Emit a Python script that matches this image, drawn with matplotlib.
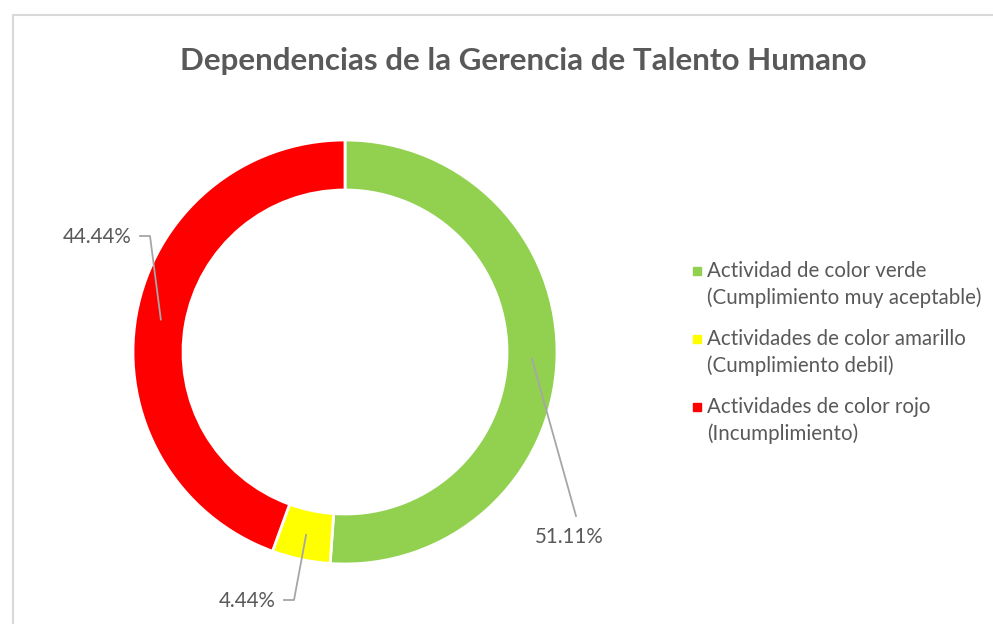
import numpy as np
import matplotlib.pyplot as plt

# Data
categories = [
    "Actividad de color verde\n(Cumplimiento muy aceptable)",
    "Actividades de color amarillo\n(Cumplimiento debil)",
    "Actividades de color rojo\n(Incumplimiento)",
]
values = [51.11, 4.44, 44.44]
colors = ["#92D050", "#FFFF00", "#FF0000"]
title = "Dependencias de la Gerencia de Talento Humano"

# Layout (pixels, origin top-left)
W, H = 993, 624
cx, cy = 345, 352
r_out, ring = 212, 50
text_color = "#595959"
leader_color = "#a6a6a6"
font = ["Lato", "DejaVu Sans"]

def py(y):
    return H - y

fig = plt.figure(figsize=(W / 100, H / 100), dpi=100)
ax = fig.add_axes([0, 0, 1, 1])

wedges, _ = ax.pie(values, colors=colors, startangle=90, counterclock=False,
                   center=(cx, py(cy)), radius=r_out,
                   wedgeprops=dict(width=ring, edgecolor="white", linewidth=2))
ax.set_xlim(0, W)
ax.set_ylim(0, H)
ax.set_aspect("auto")
ax.axis("off")

# chart border (cut off at right / bottom)
ax.plot([12.5, 12.5, W], [0, py(14.5), py(14.5)], color="#d9d9d9", lw=1.5,
        solid_joinstyle="miter")

ax.text(523, py(61), title, ha="center", va="center", fontsize=22.6,
        fontweight="bold", color=text_color, family=font)

# data labels with leader lines
label_pos = [(569, 537, "center"), (276, 601, "right"), (132, 237, "right")]
knees = [None, (294, 600), (150, 236)]
ends = [(576, 516), (284, 600), (140, 236)]
r_mid = r_out - ring / 2
for w, v, (lx, ly, ha), knee, end in zip(wedges, values, label_pos, knees, ends):
    ang = np.deg2rad((w.theta1 + w.theta2) / 2)
    ax_, ay_ = cx + r_mid * np.cos(ang), py(cy) + r_mid * np.sin(ang)
    xs, ys = [ax_], [ay_]
    if knee is not None:
        xs.append(knee[0]); ys.append(py(knee[1]))
    xs.append(end[0]); ys.append(py(end[1]))
    ax.plot(xs, ys, color=leader_color, lw=1.3)
    ax.text(lx, py(ly), f"{v:.2f}%", ha=ha, va="center", fontsize=14.8,
            color=text_color, family=font)

# legend
leg_x, leg_y, leg_step, line_gap = 697, 271, 68, 27
for i, (lab, c) in enumerate(zip(categories, colors)):
    y0 = leg_y + i * leg_step
    ax.plot(leg_x, py(y0), marker="s", markersize=6, color=c, ls="none")
    for j, line in enumerate(lab.split("\n")):
        ax.text(leg_x + 10, py(y0 + j * line_gap), line, ha="left", va="center",
                fontsize=14.8, color=text_color, family=font)

fig.savefig("out.png", dpi=100, facecolor="white")
